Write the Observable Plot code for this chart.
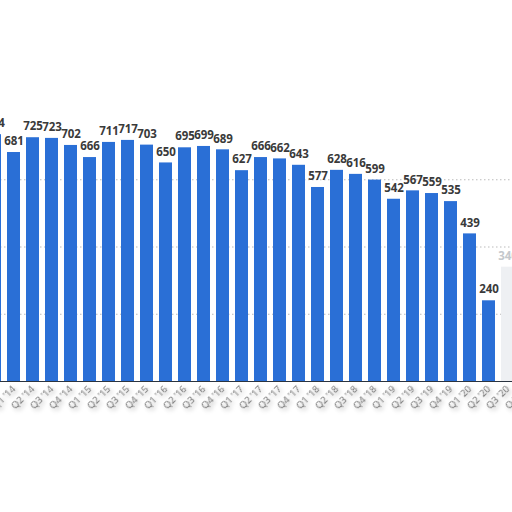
<!DOCTYPE html>
<html>
<head>
<meta charset="utf-8">
<script src="https://cdn.jsdelivr.net/npm/d3@7"></script>
<script src="https://cdn.jsdelivr.net/npm/@observablehq/plot@0.6"></script>
<style>
  html, body { margin: 0; padding: 0; background: #fff; }
  #chart svg { overflow: hidden; display: block; }
  .xax text { filter: drop-shadow(0px 3px 2px rgba(0,0,0,0.35)); }
</style>
</head>
<body>
<div id="chart"></div>
<script>
const quarters = [
  "Q4 '13",
  "Q1 '14", "Q2 '14", "Q3 '14", "Q4 '14",
  "Q1 '15", "Q2 '15", "Q3 '15", "Q4 '15",
  "Q1 '16", "Q2 '16", "Q3 '16", "Q4 '16",
  "Q1 '17", "Q2 '17", "Q3 '17", "Q4 '17",
  "Q1 '18", "Q2 '18", "Q3 '18", "Q4 '18",
  "Q1 '19", "Q2 '19", "Q3 '19", "Q4 '19",
  "Q1 '20", "Q2 '20", "Q3 '20", "Q4 '20"
];
const values = [
  734,
  681, 725, 723, 702,
  666, 711, 717, 703,
  650, 695, 699, 689,
  627, 666, 662, 643,
  577, 628, 616, 599,
  542, 567, 559, 535,
  439, 240, 340
];
const gridValues = [200, 400, 600];
const fadedQuarter = "Q3 '20";

const data = values.map((v, i) => ({q: quarters[i], v}));
const labelQuarters = quarters.slice(1);

const blue = "#2a6fd6";
const chart = Plot.plot({
  width: 512,
  height: 512,
  marginTop: 112,
  marginBottom: 131,
  marginLeft: 0,
  marginRight: 0,
  style: {fontFamily: "'Open Sans', 'DejaVu Sans', sans-serif", background: "#fff", overflow: "hidden"},
  x: {domain: quarters, range: [-18.0, 540.1], padding: 0.3, axis: null, label: null},
  y: {domain: [0, 800], axis: null, label: null},
  marks: [
    Plot.ruleY(gridValues, {stroke: "#bbb", strokeDasharray: "1.5,2.5", strokeWidth: 1}),
    Plot.barY(data, {
      x: "q", y: "v",
      fill: d => d.q === fadedQuarter ? "#eef0f3" : blue
    }),
    Plot.ruleY([0], {stroke: "#2b3440", strokeWidth: 1.2}),
    Plot.text(data, {
      x: "q", y: "v", text: d => String(d.v), dy: -11,
      fontSize: 11.5, fontWeight: "bold",
      fill: d => d.q === fadedQuarter ? "#c4c8cc" : "#3a3a3a"
    }),
    Plot.axisX(labelQuarters, {
      className: "xax", label: null,
      tickSize: 0, tickPadding: 6, tickRotate: -45,
      fontSize: 9.5, fill: "#6f6f6f"
    })
  ]
});
document.getElementById("chart").appendChild(chart);
</script>
</body>
</html>
